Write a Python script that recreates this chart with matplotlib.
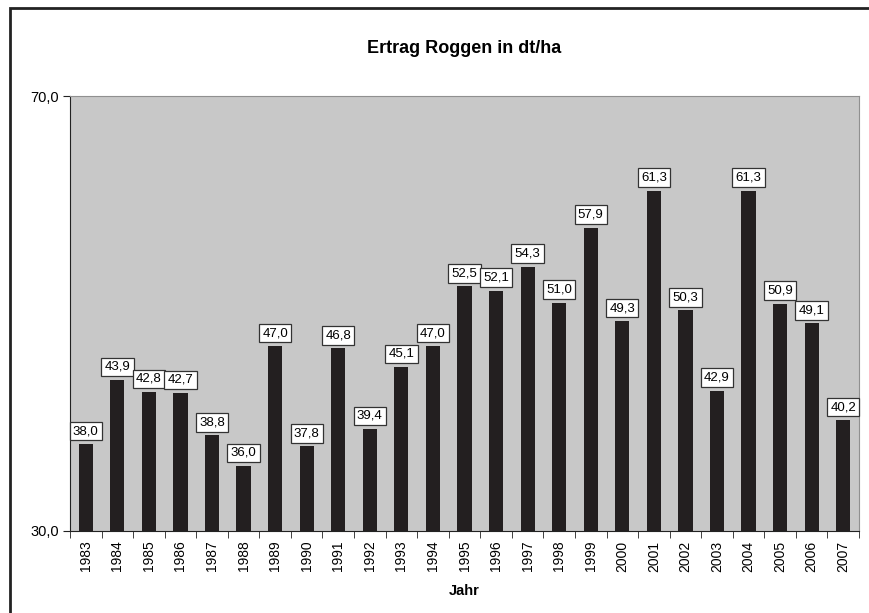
import matplotlib.pyplot as plt
from matplotlib.patches import Rectangle

# Daten
jahre = [str(j) for j in range(1983, 2008)]
ertrag = [38.0, 43.9, 42.8, 42.7, 38.8, 36.0, 47.0, 37.8, 46.8, 39.4, 45.1, 47.0,
          52.5, 52.1, 54.3, 51.0, 57.9, 49.3, 61.3, 50.3, 42.9, 61.3, 50.9, 49.1, 40.2]
y_ticks = [30.0, 70.0]

plt.rcParams['font.family'] = ['Liberation Sans', 'DejaVu Sans']

fig = plt.figure(figsize=(8.69, 6.13), dpi=100)
ax = fig.add_axes([70 / 869, 1 - 531 / 613, (859 - 70) / 869, (531 - 96) / 613])

# Rahmen um die ganze Grafik
fig.patches.append(Rectangle((10 / 869, -0.01), 1.0, 1 - 8 / 613 + 0.01, transform=fig.transFigure,
                             fill=False, edgecolor='#222222', linewidth=2))

x = list(range(len(jahre)))
ax.bar(x, ertrag, width=0.45, color='#231f20', zorder=2)
ax.set_facecolor('#c8c8c8')
ax.set_xlim(-0.5, len(jahre) - 0.5)
ax.set_ylim(30, 70)

for xi, v in zip(x, ertrag):
    ax.annotate(f'{v:.1f}'.replace('.', ','), (xi, v), xytext=(0, 5), textcoords='offset points',
                ha='center', va='bottom', fontsize=9.5, zorder=3,
                bbox=dict(boxstyle='square,pad=0.25', facecolor='white', edgecolor='#333333', linewidth=0.9))

ax.set_yticks(y_ticks)
ax.set_yticklabels([f'{t:.1f}'.replace('.', ',') for t in y_ticks], fontsize=10.5)
ax.set_xticks(x)
ax.set_xticklabels(jahre, rotation=90, fontsize=10)
ax.tick_params(axis='x', length=0, pad=7)
ax.set_xticks([i - 0.5 for i in range(len(jahre) + 1)], minor=True)
ax.tick_params(axis='x', which='minor', length=5, direction='out', color='#222222')
ax.tick_params(axis='y', length=5, direction='out', color='#222222', pad=3)

ax.spines['left'].set_color('#222222')
ax.spines['bottom'].set_color('#222222')
ax.spines['top'].set_color('#909090')
ax.spines['right'].set_color('#909090')

ax.set_title('Ertrag Roggen in dt/ha', fontsize=13, fontweight='bold', pad=31)
ax.set_xlabel('Jahr', fontsize=10.5, fontweight='bold', labelpad=9)

fig.savefig('out.png', dpi=100)
